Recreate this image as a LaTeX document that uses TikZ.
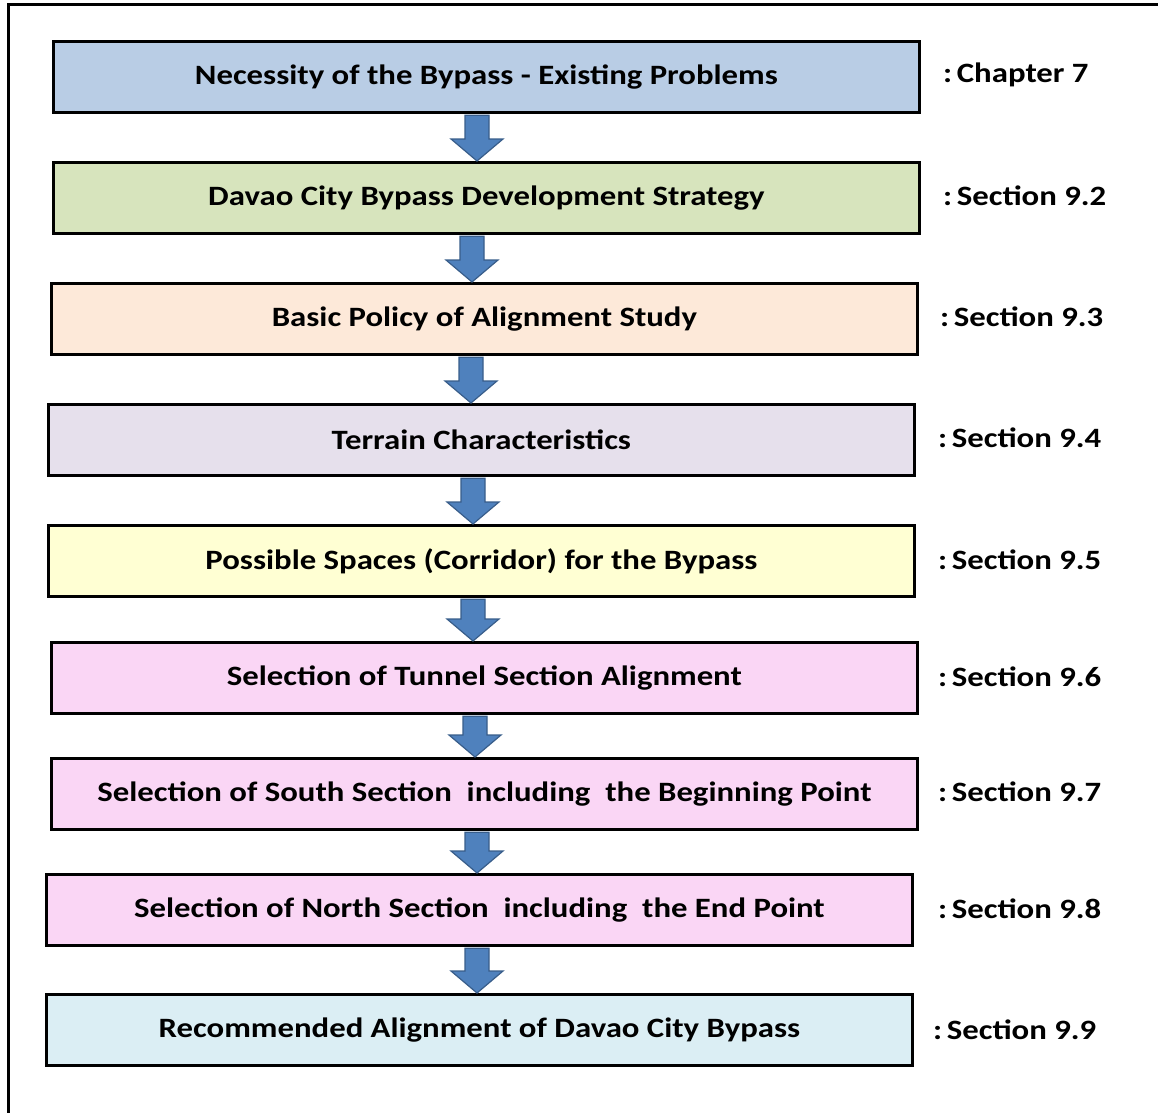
\documentclass[tikz,border=0pt]{standalone}
\usepackage{fontspec}
\setmainfont[FakeStretch=1.17]{Carlito}
\usetikzlibrary{calc}
\definecolor{cA}{HTML}{B9CDE5}
\definecolor{cB}{HTML}{D7E4BD}
\definecolor{cC}{HTML}{FDE9D9}
\definecolor{cD}{HTML}{E6E0EC}
\definecolor{cE}{HTML}{FFFFD3}
\definecolor{cF}{HTML}{FAD6F5}
\definecolor{cG}{HTML}{DBEEF4}
\definecolor{arrfill}{HTML}{4F81BD}
\definecolor{arrline}{HTML}{385D8A}
\tikzset{
  stepbox/.style={draw=black, line width=2.8pt, anchor=north west, minimum width=866pt, minimum height=71pt, inner sep=0pt, font=\fontsize{28}{32}\selectfont\bfseries},
  reflabel/.style={anchor=west, inner sep=0pt, font=\fontsize{28}{32}\selectfont\bfseries},
  barrowstyle/.style={fill=arrfill, draw=arrline, line width=1.2pt, line join=miter}
}
\newcommand\blockarr[3]{%
  \draw[barrowstyle] let \p1=(#1.south), \p2=(#2.north) in
    (#3pt-12pt,\y1-1.5pt) -- (#3pt+12pt,\y1-1.5pt) -- (#3pt+12pt,\y2+22pt) -- (#3pt+26pt,\y2+22pt)
    -- (#3pt,\y2) -- (#3pt-26pt,\y2+22pt) -- (#3pt-12pt,\y2+22pt) -- cycle;}
\begin{document}
\begin{tikzpicture}[x=1pt,y=-1pt]
\useasboundingbox (0,0) rectangle (1158,1112);
\draw[line width=3pt] (8,1130) -- (8,4) -- (1175,4);
\node[stepbox, fill=cA] (b1) at (52,40) {Necessity of the Bypass - Existing Problems};
\node[stepbox, fill=cB] (b2) at (52,161) {Davao City Bypass Development Strategy};
\node[stepbox, fill=cC] (b3) at (50,282) {Basic Policy of Alignment Study};
\node[stepbox, fill=cD] (b4) at (47,403) {Terrain Characteristics};
\node[stepbox, fill=cE] (b5) at (47,524) {Possible Spaces (Corridor) for the Bypass};
\node[stepbox, fill=cF] (b6) at (50,641) {Selection of Tunnel Section Alignment};
\node[stepbox, fill=cF] (b7) at (50,757) {Selection of South Section\ \ including\ \ the Beginning Point};
\node[stepbox, fill=cF] (b8) at (45,873) {Selection of North Section\ \ including\ \ the End Point};
\node[stepbox, fill=cG] (b9) at (45,993) {Recommended Alignment of Davao City Bypass};
\node[reflabel] (l1) at (943,75) {:\,Chapter 7};
\node[reflabel] (l2) at (943,196) {:\,Section 9.2};
\node[reflabel] (l3) at (940,317) {:\,Section 9.3};
\node[reflabel] (l4) at (938,438) {:\,Section 9.4};
\node[reflabel] (l5) at (938,560) {:\,Section 9.5};
\node[reflabel] (l6) at (938,677) {:\,Section 9.6};
\node[reflabel] (l7) at (938,792) {:\,Section 9.7};
\node[reflabel] (l8) at (938,909) {:\,Section 9.8};
\node[reflabel] (l9) at (933,1030) {:\,Section 9.9};
\blockarr{b1}{b2}{477}
\blockarr{b2}{b3}{472}
\blockarr{b3}{b4}{471}
\blockarr{b4}{b5}{473}
\blockarr{b5}{b6}{473}
\blockarr{b6}{b7}{475}
\blockarr{b7}{b8}{477}
\blockarr{b8}{b9}{477}
\end{tikzpicture}
\end{document}
